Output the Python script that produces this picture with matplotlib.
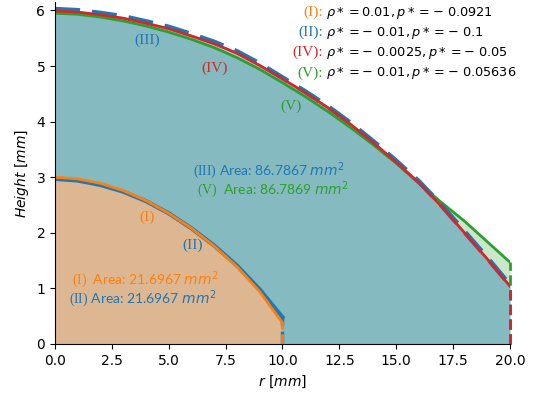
import matplotlib
matplotlib.use('Agg')
import matplotlib.pyplot as plt

plt.rcParams['mathtext.fontset'] = 'custom'
plt.rcParams['mathtext.rm'] = 'DejaVu Sans'
plt.rcParams['mathtext.it'] = 'DejaVu Sans:italic'
plt.rcParams['mathtext.bf'] = 'DejaVu Sans:bold'
plt.rcParams['mathtext.cal'] = 'Liberation Serif'

# profils (r en mm, hauteur en mm)
r_small = [0, 1, 2, 3, 4, 5, 6, 7, 8, 9, 10]
h_I = [3.00, 2.97, 2.89, 2.76, 2.58, 2.35, 2.08, 1.76, 1.39, 0.94, 0.38]
h_II = [2.97, 2.94, 2.86, 2.74, 2.57, 2.35, 2.08, 1.77, 1.41, 0.98, 0.48]

r_big = list(range(21))
h_III = [6.02, 6.00, 5.95, 5.89, 5.80, 5.70, 5.57, 5.43, 5.26, 5.04, 4.79,
         4.54, 4.27, 3.97, 3.64, 3.29, 2.92, 2.49, 2.02, 1.55, 1.06]
h_IV = [5.99, 5.97, 5.92, 5.86, 5.77, 5.67, 5.54, 5.40, 5.23, 5.01, 4.77,
        4.52, 4.25, 3.95, 3.62, 3.27, 2.90, 2.47, 2.00, 1.53, 1.04]
h_V = [5.95, 5.93, 5.88, 5.81, 5.72, 5.61, 5.48, 5.33, 5.15, 4.94, 4.70,
       4.45, 4.18, 3.89, 3.58, 3.25, 2.89, 2.54, 2.21, 1.84, 1.47]

labels = ['(I):', '(II):', '(IV):', '(V):']
label_colors = ['tab:orange', 'tab:blue', 'tab:red', 'tab:green']
params = [r'$\rho* = 0.01, p* = -\ 0.0921$',
          r'$\rho* = -\ 0.01, p* = -\ 0.1$',
          r'$\rho* = -\ 0.0025, p* = -\ 0.05$',
          r'$\rho* = -\ 0.01, p* = -\ 0.05636$']

fig = plt.figure(figsize=(5.33, 3.93), dpi=100)
ax = fig.add_axes([0.1032, 0.1247, 0.8536, 0.870])

# remplissages
ax.fill_between(r_big, 0, h_V, color='tab:green', alpha=0.25, lw=0)
ax.fill_between(r_big, 0, h_III, color='tab:blue', alpha=0.4, lw=0)
ax.fill_between(r_small, 0, h_I, color='white', lw=0)
ax.fill_between(r_small, 0, h_I, color='tab:orange', alpha=0.47, lw=0)
ax.fill_between(r_small, 0, h_II, color='tab:blue', alpha=0.15, lw=0)

# courbes
ax.plot(r_big, h_V, color='tab:green', lw=2)
ax.plot([r_big[-1], r_big[-1]], [0, h_V[-1]], '--', color='tab:green', lw=2, clip_on=False)
ax.plot(r_big, h_III, color='tab:blue', lw=3.6, linestyle=(0, (5, 2.4)))
ax.plot([r_big[-1], r_big[-1]], [0, h_III[-1]], '--', color='tab:blue', lw=2, clip_on=False)
ax.plot(r_big, h_IV, color='tab:red', lw=2)
ax.plot([r_big[-1], r_big[-1]], [0, h_IV[-1]], '--', color='tab:red', lw=2, clip_on=False)

ax.plot(r_small, h_II, color='tab:blue', lw=3)
ax.plot([r_small[-1], r_small[-1]], [0, h_II[-1]], '--', color='tab:blue', lw=2.5)
ax.plot(r_small, h_I, color='tab:orange', lw=2)
ax.plot([r_small[-1], r_small[-1]], [0, h_I[-1]], '--', color='tab:orange', lw=2)

# étiquettes des courbes
serif = 'Liberation Serif'
ax.text(4.04, 5.46, '(III)', color='tab:blue', family=serif, fontsize=11, ha='center', va='center')
ax.text(7.03, 4.96, '(IV)', color='tab:red', family=serif, fontsize=11, ha='center', va='center')
ax.text(10.37, 4.28, '(V)', color='tab:green', family=serif, fontsize=11, ha='center', va='center')
ax.text(4.04, 2.28, '(I)', color='tab:orange', family=serif, fontsize=11, ha='center', va='center')
ax.text(6.07, 1.78, '(II)', color='tab:blue', family=serif, fontsize=11, ha='center', va='center')

ax.text(6.07, 3.12, r'$\mathcal{(III)}$ Area: 86.7867 $mm^2$', color='tab:blue', family='Lato', fontsize=10, ha='left', va='center')
ax.text(6.24, 2.78, r'$\mathcal{(V)}$  Area: 86.7869 $mm^2$', color='tab:green', family='Lato', fontsize=10, ha='left', va='center')
ax.text(0.75, 1.16, r'$\mathcal{(I)}$  Area: 21.6967 $mm^2$', color='tab:orange', family='Lato', fontsize=10, ha='left', va='center')
ax.text(0.62, 0.81, r'$\mathcal{(II)}$ Area: 21.6967 $mm^2$', color='tab:blue', family='Lato', fontsize=10, ha='left', va='center')

ys = [5.96, 5.60, 5.24, 4.87]
for lab, col, par, y in zip(labels, label_colors, params, ys):
    ax.text(11.78, y, lab, color=col, family=serif, fontsize=11, ha='right', va='center')
    ax.text(11.91, y, par, color='black', fontsize=9.3, ha='left', va='center')

ax.set_xlim(0, 20)
ax.set_ylim(0, 6.15)
ax.set_xticks([0, 2.5, 5, 7.5, 10, 12.5, 15, 17.5, 20])
ax.spines['top'].set_visible(False)
ax.spines['right'].set_visible(False)
ax.set_xlabel(r'$r\ [mm]$')
ax.set_ylabel(r'$Height\ [mm]$')

fig.savefig('out.png', dpi=100)
